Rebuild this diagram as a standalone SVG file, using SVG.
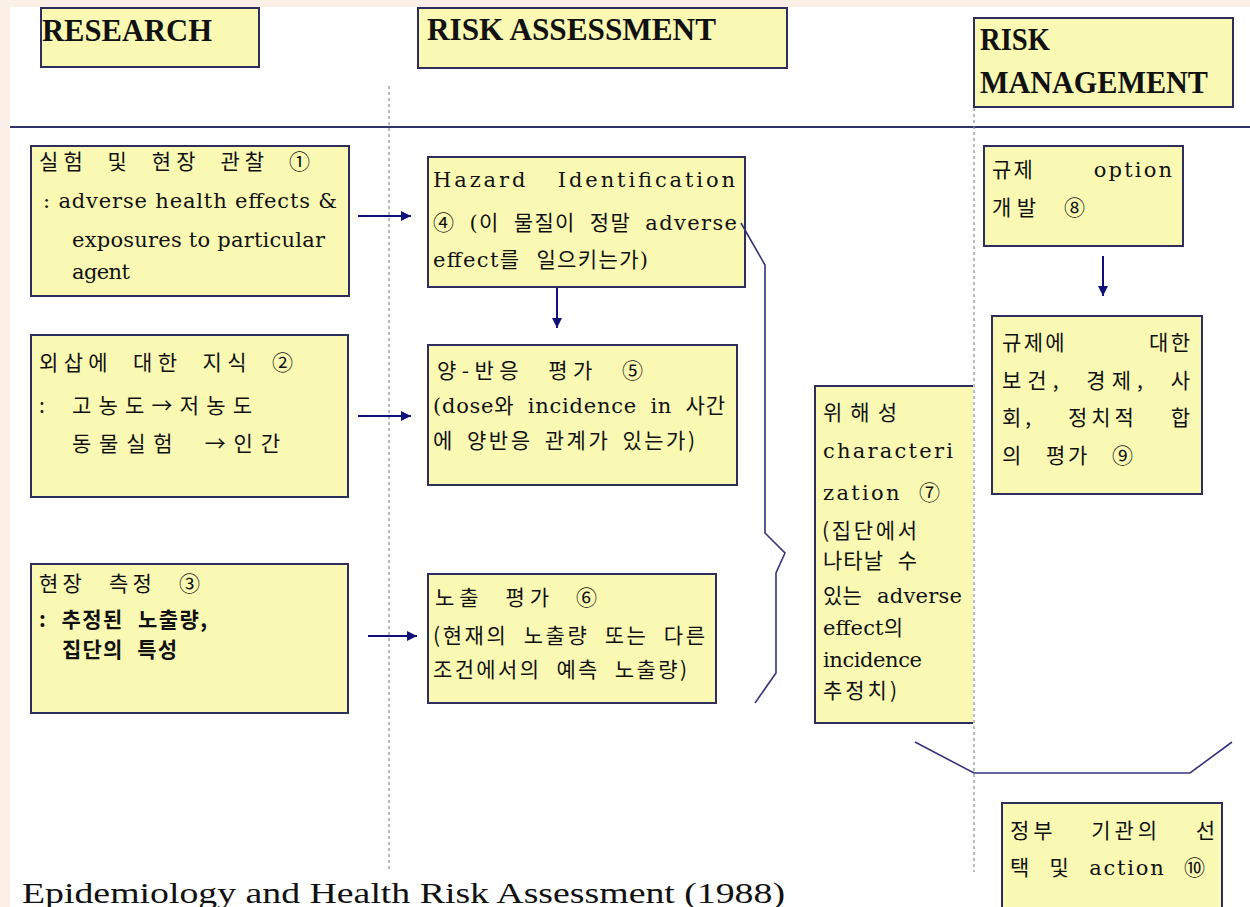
<svg xmlns="http://www.w3.org/2000/svg" width="1250" height="907" viewBox="0 0 1250 907">
<defs>
<marker id="ah" viewBox="0 0 10 10" refX="10" refY="5" markerWidth="10" markerHeight="10" markerUnits="userSpaceOnUse" orient="auto"><path d="M0,0 L10,5 L0,10 Z" fill="#10107a"/></marker>
<style>
.box{fill:#f9f9b4;stroke:#2e2e5e;stroke-width:2}
.title{font-family:"Liberation Serif","Noto Sans CJK KR",serif;font-weight:bold;font-size:31px;fill:#111}
.t{font-family:"DejaVu Serif","Noto Sans CJK KR",serif;font-size:21px;fill:#111}
.k{font-family:"Noto Sans CJK KR","DejaVu Sans",sans-serif;font-size:21px;fill:#111}
.kb{font-weight:bold}
.arr{stroke:#10107a;stroke-width:2;fill:none;marker-end:url(#ah)}
.brace{stroke:#34347e;stroke-width:1.6;fill:none}
.dash{stroke:#8a8a9a;stroke-width:1.2;stroke-dasharray:3,3;fill:none}
.cap{font-family:"Liberation Serif",serif;font-size:30px;fill:#111}
</style>
</defs>
<rect x="0" y="0" width="1250" height="907" fill="#ffffff"/>
<rect x="0" y="0" width="1250" height="7" fill="#fbf0e8"/>
<rect x="0" y="0" width="10" height="907" fill="#fbf0e8"/>
<line x1="10" y1="127" x2="1250" y2="127" stroke="#33336a" stroke-width="2"/>
<g id="guides">
<line class="dash" x1="389" y1="86" x2="389" y2="872"/>
<line class="dash" x1="974" y1="108" x2="974" y2="872"/>
</g>
<g id="hdr-research"><rect class="box" x="41" y="8" width="218" height="59"/><text class="title" x="42" y="41" textLength="170" lengthAdjust="spacingAndGlyphs">RESEARCH</text></g>
<g id="hdr-assessment"><rect class="box" x="418" y="8" width="369" height="60"/><text class="title" x="427" y="40" textLength="289" lengthAdjust="spacingAndGlyphs">RISK ASSESSMENT</text></g>
<g id="hdr-management"><rect class="box" x="974" y="18" width="259" height="89"/><text class="title" x="980" y="50" textLength="70" lengthAdjust="spacingAndGlyphs">RISK</text><text class="title" x="980" y="93" textLength="228" lengthAdjust="spacingAndGlyphs">MANAGEMENT</text></g>
<g id="n1"><rect class="box" x="31" y="146" width="318" height="150"/>
<text class="k" x="39" y="169" font-size="23" word-spacing="10" textLength="271" lengthAdjust="spacing">실험 및 현장 관찰 ①</text>
<text class="t" x="43" y="208" font-size="19" textLength="294" lengthAdjust="spacing">: adverse health effects &amp;</text>
<text class="t" x="72" y="247" font-size="19" textLength="253" lengthAdjust="spacing">exposures to particular</text>
<text class="t" x="72" y="279" font-size="19" textLength="58" lengthAdjust="spacing">agent</text></g>
<g id="n2"><rect class="box" x="31" y="335" width="317" height="162"/>
<text class="k" x="39" y="370" font-size="23" word-spacing="10" textLength="254" lengthAdjust="spacing">외삽에 대한 지식 ②</text>
<text class="k" x="39" y="413" font-size="23" word-spacing="8" textLength="213" lengthAdjust="spacing">: 고농도→저농도</text>
<text class="k" x="72" y="451" font-size="23" word-spacing="12" textLength="208" lengthAdjust="spacing">동물실험 →인간</text></g>
<g id="n3"><rect class="box" x="31" y="564" width="317" height="149"/>
<text class="k" x="39" y="591" font-size="21" word-spacing="14" textLength="161" lengthAdjust="spacing">현장 측정 ③</text>
<text class="k kb" x="39" y="627" font-size="19" word-spacing="8" textLength="168" lengthAdjust="spacing">: 추정된 노출량,</text>
<text class="k kb" x="62" y="657" font-size="19" word-spacing="8" textLength="115" lengthAdjust="spacing">집단의 특성</text></g>
<g id="n4"><rect class="box" x="428" y="157" width="317" height="130"/>
<text class="t" x="433" y="187" font-size="22" word-spacing="20" textLength="302" lengthAdjust="spacing">Hazard Identification</text>
<text class="t" x="433" y="230" word-spacing="6" textLength="304" lengthAdjust="spacing">④ (이 물질이 정말 adverse</text>
<text class="t" x="433" y="267" word-spacing="8" textLength="215" lengthAdjust="spacing">effect를 일으키는가)</text></g>
<g id="n5"><rect class="box" x="428" y="345" width="309" height="140"/>
<text class="k" x="437" y="378" font-size="22" word-spacing="14" textLength="206" lengthAdjust="spacing">양-반응 평가 ⑤</text>
<text class="t" x="433" y="413" word-spacing="6" textLength="292" lengthAdjust="spacing">(dose와 incidence in 사간</text>
<text class="k" x="433" y="448" word-spacing="5" textLength="262" lengthAdjust="spacing">에 양반응 관계가 있는가)</text></g>
<g id="n6"><rect class="box" x="428" y="574" width="288" height="129"/>
<text class="k" x="435" y="605" font-size="22" word-spacing="12" textLength="162" lengthAdjust="spacing">노출 평가 ⑥</text>
<text class="k" x="433" y="643" font-size="20" word-spacing="8" textLength="272" lengthAdjust="spacing">(현재의 노출량 또는 다른</text>
<text class="k" x="433" y="677" font-size="20" word-spacing="8" textLength="254" lengthAdjust="spacing">조건에서의 예측 노출량)</text></g>
<g id="n7"><rect x="815" y="386" width="158" height="337" fill="#f9f9b4"/>
<path d="M973,386 H815 V723 H973" fill="none" stroke="#2e2e5e" stroke-width="2"/>
<text class="k" x="823" y="420" textLength="74" lengthAdjust="spacing">위해성</text>
<text class="t" x="823" y="458" textLength="130" lengthAdjust="spacing">characteri</text>
<text class="t" x="823" y="500" word-spacing="8" textLength="117" lengthAdjust="spacing">zation ⑦</text>
<text class="k" x="822" y="538" font-size="19" textLength="95" lengthAdjust="spacing">(집단에서</text>
<text class="k" x="823" y="568" font-size="19" word-spacing="8" textLength="94" lengthAdjust="spacing">나타날 수</text>
<text class="t" x="823" y="603" font-size="19" word-spacing="8" textLength="139" lengthAdjust="spacing">있는 adverse</text>
<text class="t" x="823" y="635" font-size="19" textLength="80" lengthAdjust="spacing">effect의</text>
<text class="t" x="823" y="667" font-size="19" textLength="99" lengthAdjust="spacing">incidence</text>
<text class="k" x="823" y="698" font-size="19" textLength="74" lengthAdjust="spacing">추정치)</text></g>
<g id="n8"><rect class="box" x="984" y="146" width="199" height="100"/>
<text class="t" x="992" y="177" word-spacing="50" textLength="180" lengthAdjust="spacing">규제 option</text>
<text class="k" x="992" y="215" word-spacing="12" textLength="93" lengthAdjust="spacing">개발 ⑧</text></g>
<g id="n9"><rect class="box" x="992" y="316" width="210" height="178"/>
<text class="k" x="1002" y="350" word-spacing="75" textLength="188" lengthAdjust="spacing">규제에 대한</text>
<text class="k" x="1002" y="388" word-spacing="11" textLength="188" lengthAdjust="spacing">보건, 경제, 사</text>
<text class="k" x="1002" y="425" word-spacing="24" textLength="188" lengthAdjust="spacing">회, 정치적 합</text>
<text class="k" x="1002" y="463" word-spacing="14" textLength="131" lengthAdjust="spacing">의 평가 ⑨</text></g>
<g id="n10"><rect class="box" x="1002" y="803" width="220" height="120"/>
<text class="k" x="1010" y="838" word-spacing="26" textLength="205" lengthAdjust="spacing">정부 기관의 선</text>
<text class="t" x="1010" y="875" word-spacing="10" textLength="195" lengthAdjust="spacing">택 및 action ⑩</text></g>
<g id="connectors">
<line class="arr" x1="358" y1="216" x2="411" y2="216"/>
<line class="arr" x1="358" y1="416" x2="411" y2="416"/>
<line class="arr" x1="368" y1="636" x2="417" y2="636"/>
<line class="arr" x1="557" y1="288" x2="557" y2="328"/>
<line class="arr" x1="1103" y1="256" x2="1103" y2="296"/>
<polyline class="brace" points="741,223 765,265 765,533 785,553 776,573 776,673 755,703"/>
<polyline class="brace" points="915,742 974,773 1190,773 1232,742"/>
</g>
<text class="cap" x="22" y="903" textLength="763" lengthAdjust="spacingAndGlyphs">Epidemiology and Health Risk Assessment (1988)</text>
</svg>
